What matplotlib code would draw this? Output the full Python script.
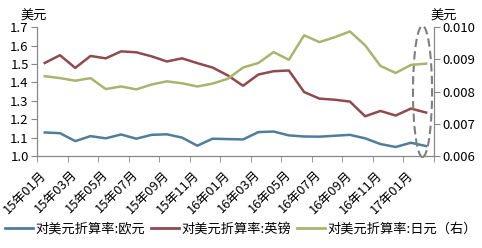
import matplotlib
matplotlib.use("Agg")
import matplotlib.pyplot as plt
from matplotlib.patches import Ellipse
from matplotlib.lines import Line2D
import numpy as np

plt.rcParams['font.family'] = ['Noto Sans CJK SC', 'DejaVu Sans']

months = ['15年01月', '15年02月', '15年03月', '15年04月', '15年05月', '15年06月',
          '15年07月', '15年08月', '15年09月', '15年10月', '15年11月', '15年12月',
          '16年01月', '16年02月', '16年03月', '16年04月', '16年05月', '16年06月',
          '16年07月', '16年08月', '16年09月', '16年10月', '16年11月', '16年12月',
          '17年01月', '17年02月']

eur = [1.128, 1.124, 1.081, 1.108, 1.096, 1.117, 1.094, 1.115, 1.118, 1.100,
       1.056, 1.094, 1.092, 1.090, 1.130, 1.133, 1.112, 1.106, 1.105, 1.110,
       1.115, 1.096, 1.065, 1.049, 1.072, 1.054]

gbp = [1.506, 1.548, 1.479, 1.544, 1.531, 1.569, 1.564, 1.542, 1.514, 1.531,
       1.505, 1.481, 1.438, 1.382, 1.443, 1.461, 1.465, 1.348, 1.312, 1.306,
       1.296, 1.216, 1.245, 1.220, 1.258, 1.236]

jpy = [0.00848, 0.00842, 0.00834, 0.00842, 0.00808, 0.00816, 0.00807, 0.00822,
       0.00832, 0.00826, 0.00816, 0.00825, 0.00840, 0.00875, 0.00889, 0.00923,
       0.00899, 0.00975, 0.00954, 0.00969, 0.00987, 0.00944, 0.00880, 0.00858,
       0.00883, 0.00887]

labels = ['对美元折算率:欧元', '对美元折算率:英镑', '对美元折算率:日元（右）']
colors = ['#4e7e9b', '#904a4e', '#a8b56e']

x = np.arange(len(months))

fig = plt.figure(figsize=(4.82, 2.48), dpi=100)
ax = fig.add_axes([0.077, 0.371, 0.823, 0.519])
ax2 = ax.twinx()

ax.plot(x, eur, color=colors[0], lw=1.8)
ax.plot(x, gbp, color=colors[1], lw=1.8)
ax2.plot(x, jpy, color=colors[2], lw=1.8)

ax.set_xlim(-0.5, len(months) - 0.5)
ax.set_ylim(1.0, 1.7)
ax.set_yticks(np.arange(1.0, 1.71, 0.1))
ax.set_yticklabels([f'{v:.1f}' for v in np.arange(1.0, 1.71, 0.1)], fontsize=9.5)
ax2.set_ylim(0.006, 0.010)
ax2.set_yticks(np.arange(0.006, 0.01001, 0.001))
ax2.set_yticklabels([f'{v:.3f}' for v in np.arange(0.006, 0.01001, 0.001)], fontsize=9.5)

# labels on every second month, tick marks between categories
ax.set_xticks(x[::2])
ax.set_xticklabels(months[::2], rotation=45, ha='right', va='center',
                   rotation_mode='anchor', fontsize=9.3)
ax.tick_params(axis='x', which='major', length=0, pad=12)
ax.set_xticks(np.arange(-0.5, len(months), 2), minor=True)
ax.tick_params(axis='x', which='minor', length=4, direction='out', color='#868686')

ax.tick_params(axis='y', length=4, color='#868686', pad=2)
ax2.tick_params(axis='y', length=4, color='#868686', pad=2)

for a in (ax, ax2):
    a.spines['top'].set_visible(False)
    for s in ('left', 'right', 'bottom'):
        a.spines[s].set_color('#868686')

# highlight of latest months
ell = Ellipse((24.76, 1.351), 1.25, 0.714, fill=False, ec='#7f7f7f',
              lw=1.5, ls=(0, (4, 2)), clip_on=False, zorder=5)
ax.add_patch(ell)

fig.text(0.042, 0.935, '美元', fontsize=9.5, va='center')
fig.text(0.893, 0.935, '美元', fontsize=9.5, va='center')

handles = [Line2D([], [], color=c, lw=2) for c in colors]
fig.legend(handles, labels, loc='center', bbox_to_anchor=(0.5, 0.075), ncol=3,
           frameon=False, fontsize=9.5, handlelength=2.1, handletextpad=0.15,
           columnspacing=0.5)

fig.savefig('out.png', dpi=100)
